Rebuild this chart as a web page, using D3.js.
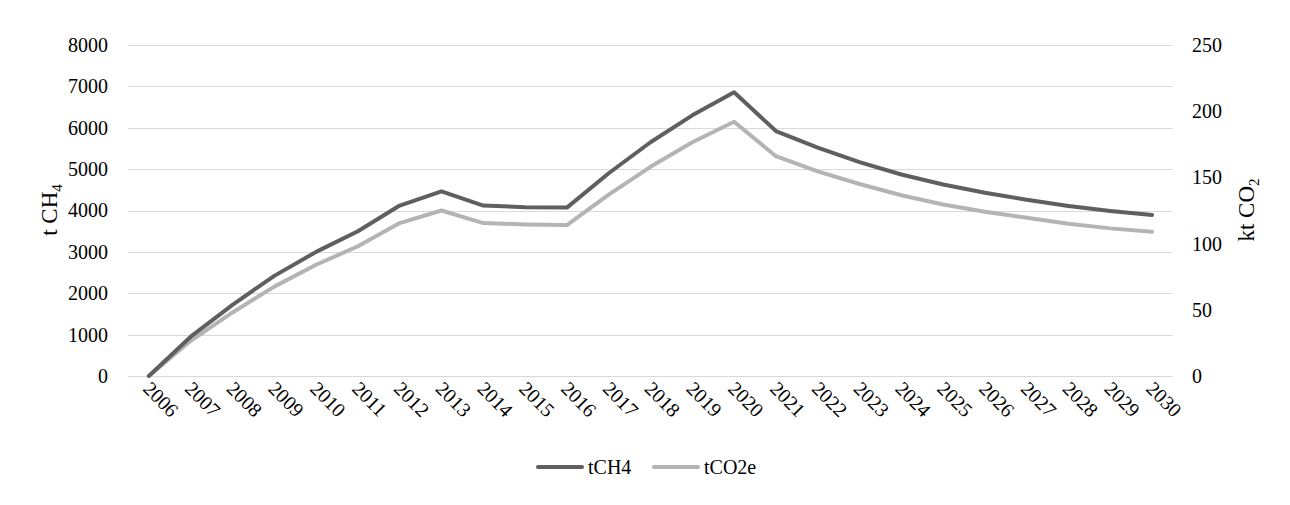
<!DOCTYPE html>
<html>
<head>
<meta charset="utf-8">
<script src="https://cdn.jsdelivr.net/npm/d3@7"></script>
<style>
  body { margin: 0; background: #fff; }
  svg { font-family: "Liberation Serif", "Times New Roman", serif; }
  .grid line { stroke: #d9d9d9; stroke-width: 1; }
  .lbl { font-size: 20px; fill: #000; }
  .ttl { font-size: 23px; fill: #000; }
</style>
</head>
<body>
<svg width="1290" height="505"></svg>
<script>
var years = d3.range(2006, 2031).map(String);
var tCH4 = [0, 950, 1720, 2420, 3000, 3500, 4120, 4460, 4120, 4080, 4070,
            4900, 5650, 6300, 6860, 5920, 5520, 5170, 4870, 4630, 4430,
            4260, 4110, 3990, 3890];
var tCO2e = [0, 26.6, 48, 67.5, 84, 98, 115.5, 125, 115.5, 114.5, 114,
             137, 158, 176.5, 192, 166, 154.5, 145, 136.5, 129.5, 124,
             119.5, 115, 111.5, 109];
var leftTicks = [0, 1000, 2000, 3000, 4000, 5000, 6000, 7000, 8000];
var rightTicks = [0, 50, 100, 150, 200, 250];

var svg = d3.select('svg');
var plotL = 128, plotR = 1173, plotT = 45, plotB = 376;

var x = d3.scaleBand().domain(years).range([plotL, plotR]);
var yL = d3.scaleLinear().domain([0, 8000]).range([plotB, plotT]);
var yR = d3.scaleLinear().domain([0, 250]).range([plotB, plotT]);

// gridlines
svg.append('g')
  .attr('class', 'grid')
  .selectAll('line')
  .data(leftTicks)
  .enter()
  .append('line')
    .attr('x1', plotL)
    .attr('x2', plotR)
    .attr('y1', d => Math.round(yL(d)) + 0.5)
    .attr('y2', d => Math.round(yL(d)) + 0.5);

// left axis
var axL = svg.append('g')
  .attr('transform', 'translate(' + (plotL - 20) + ',0)')
  .call(d3.axisLeft(yL).tickValues(leftTicks).tickFormat(d3.format('d')).tickSize(0).tickPadding(0));
axL.select('.domain').remove();
axL.attr('font-family', null).attr('font-size', null);
axL.selectAll('text').attr('class', 'lbl');

// right axis
var axR = svg.append('g')
  .attr('transform', 'translate(' + (plotR + 19) + ',0)')
  .call(d3.axisRight(yR).tickValues(rightTicks).tickFormat(d3.format('d')).tickSize(0).tickPadding(0));
axR.select('.domain').remove();
axR.attr('font-family', null).attr('font-size', null);
axR.selectAll('text').attr('class', 'lbl');

// x labels
svg.append('g')
  .selectAll('text')
  .data(years)
  .enter()
  .append('text')
    .attr('class', 'lbl')
    .attr('transform', d => 'translate(' + (x(d) + x.bandwidth() / 2 - 7) + ',390) rotate(45)')
    .text(d => d);

// axis titles
var tl = svg.append('text')
  .attr('class', 'ttl')
  .attr('text-anchor', 'middle')
  .attr('transform', 'translate(57,210) rotate(-90)');
tl.append('tspan').text('t CH');
tl.append('tspan').attr('dy', 5).style('font-size', '15px').text('4');

var tr = svg.append('text')
  .attr('class', 'ttl')
  .attr('text-anchor', 'middle')
  .attr('transform', 'translate(1254,210) rotate(-90)');
tr.append('tspan').text('kt CO');
tr.append('tspan').attr('dy', 5).style('font-size', '15px').text('2');

// lines
var cx = d => x(d) + x.bandwidth() / 2;
var lineL = d3.line().x((d, i) => cx(years[i])).y(d => yL(d));
var lineR = d3.line().x((d, i) => cx(years[i])).y(d => yR(d));

svg.append('path')
  .datum(tCO2e)
  .attr('d', lineR)
  .attr('fill', 'none')
  .attr('stroke', '#b4b4b4')
  .attr('stroke-width', 4)
  .attr('stroke-linecap', 'round')
  .attr('stroke-linejoin', 'round');

svg.append('path')
  .datum(tCH4)
  .attr('d', lineL)
  .attr('fill', 'none')
  .attr('stroke', '#5f5f5f')
  .attr('stroke-width', 4)
  .attr('stroke-linecap', 'round')
  .attr('stroke-linejoin', 'round');

// legend
var legend = [
  {name: 'tCH4', color: '#5f5f5f', x: 538},
  {name: 'tCO2e', color: '#b4b4b4', x: 654}
];
var lg = svg.append('g')
  .selectAll('g')
  .data(legend)
  .enter()
  .append('g')
    .attr('transform', d => 'translate(' + d.x + ',467)');
lg.append('line')
  .attr('x1', 0).attr('x2', 44)
  .attr('stroke', d => d.color)
  .attr('stroke-width', 4)
  .attr('stroke-linecap', 'round');
lg.append('text')
  .attr('class', 'lbl')
  .attr('x', 50)
  .attr('dy', '0.35em')
  .text(d => d.name);
</script>
</body>
</html>
